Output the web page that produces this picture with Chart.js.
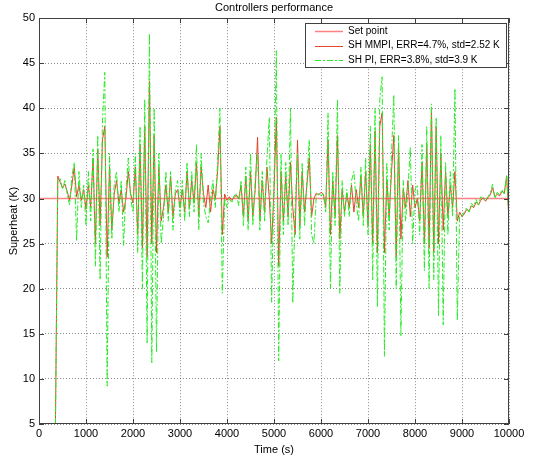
<!DOCTYPE html>
<html>
<head>
<meta charset="utf-8">
<title>Controllers performance</title>
<script src="https://cdn.jsdelivr.net/npm/chart.js@4.4.0/dist/chart.umd.min.js"></script>
<style>
body { margin: 0; background: #fff; }
canvas { display: block; }
</style>
</head>
<body>
<canvas id="myChart" width="534" height="457"></canvas>
<script>
// time axis (s), one sample every 50 s
const time = [
  350, 400, 450, 500, 550, 600, 650, 700, 750, 800, 850, 900, 950, 1000,
  1050, 1100, 1150, 1200, 1250, 1300, 1350, 1400, 1450, 1500, 1550, 1600,
  1650, 1700, 1750, 1800, 1850, 1900, 1950, 2000,
  2050, 2100, 2150, 2200, 2250, 2300, 2350, 2400, 2450, 2500, 2550, 2600,
  2650, 2700, 2750, 2800, 2850, 2900, 2950, 3000,
  3050, 3100, 3150, 3200, 3250, 3300, 3350, 3400, 3450, 3500,
  3550, 3600, 3650, 3700, 3750, 3800, 3850, 3900, 3950, 4000,
  4050, 4100, 4150, 4200, 4250, 4300, 4350, 4400, 4450, 4500,
  4550, 4600, 4650, 4700, 4750, 4800, 4850, 4900, 4950, 5000,
  5050, 5100, 5150, 5200, 5250, 5300, 5350, 5400, 5450, 5500,
  5550, 5600, 5650, 5700, 5750, 5800, 5850, 5900, 5950, 6000,
  6050, 6100, 6150, 6200, 6250, 6300, 6350, 6400, 6450, 6500,
  6550, 6600, 6650, 6700, 6750, 6800, 6850, 6900, 6950, 7000,
  7050, 7100, 7150, 7200, 7250, 7300, 7350, 7400, 7450, 7500,
  7550, 7600, 7650, 7700, 7750, 7800, 7850, 7900, 7950, 8000,
  8050, 8100, 8150, 8200, 8250, 8300, 8350, 8400, 8450, 8500,
  8550, 8600, 8650, 8700, 8750, 8800, 8850, 8900, 8950, 9000,
  9050, 9100, 9150, 9200, 9250, 9300, 9350, 9400, 9450, 9500,
  9550, 9600, 9650, 9700, 9750, 9800, 9850, 9900, 9950, 10000
];

// superheat with the MMPI controller (K)
const shMMPI = [
  5, 32.5, 31.8, 31.2, 31.6, 30.8, 29.8, 31.5, 33.5, 30.2, 31.5, 29.8, 31, 28.8,
  31.5, 29, 34.5, 25, 35.5, 27, 36.5, 38, 23.5, 33.5, 26.5, 30.5,
  32, 29.5, 31, 28.5, 30, 33, 30.5, 29.5,
  33.5, 26, 36, 24.5, 38, 23.5, 43, 25, 37, 24, 33.5, 27.5,
  29, 31.5, 28.5, 32.5, 28, 30.5, 31, 29,
  31, 28.5, 33, 29, 32, 29.5, 34, 28, 33.5, 30.5,
  29, 31.5, 28.5, 31, 30, 33, 38, 26, 30.5, 29.8,
  30.2, 29.8, 30.1, 30.4, 30, 31.5, 28, 32.5, 27.5, 33,
  28, 31, 36.8, 27.5, 32, 28.5, 33.5, 30, 25, 31,
  39, 22.5, 33, 27.5, 32.5, 28, 34, 29, 26, 36.5,
  27, 33, 28.5, 31.5, 34.5, 28, 30, 30.6, 30.4, 30.7,
  30.5, 29, 36.5, 26, 32, 28, 37, 25.5, 31, 28.5,
  30.5, 29, 31.5, 28.5, 31, 29, 32.5, 28, 33, 27,
  36, 25, 37.5, 24, 38, 39.5, 24, 32, 28, 33,
  37, 23.5, 36, 25.5, 31, 29, 32, 28, 31.5, 29,
  30, 27.5, 34, 25, 36, 24.5, 40, 24, 38, 25,
  35, 26.5, 33, 28, 31.5, 29, 33, 27.5, 28.5, 28,
  28.3, 28.8, 28.6, 29.2, 29, 29.6, 29.3, 29.8, 30.1, 29.7,
  30.1, 30.4, 31.2, 30.2, 30.5, 30.3, 30.8, 30.6, 32.5, 27.5
];

// superheat with the PI controller (K)
const shPI = [
  5, 32, 32.3, 31, 32, 30.5, 29.3, 32.5, 34, 25.3, 33, 29, 31.5, 27,
  33, 27.5, 35.5, 22.5, 37, 21, 38.5, 44, 9.2, 35, 25.5, 31.5,
  33, 28.5, 32, 24.8, 31, 34.5, 30, 28.5,
  35, 24, 38, 20, 41, 14, 48.3, 11.8, 40, 13, 35, 25,
  28, 33, 27.5, 33, 26.5, 31, 32, 28,
  32, 27.5, 34, 28, 33, 28.5, 36, 26.5, 35, 29.5,
  28, 27.3, 30, 32, 29, 34, 40, 19.5, 30, 29,
  30, 29.5, 30.3, 30.5, 29.2, 32, 27, 33.5, 26.5, 35,
  27, 32, 35, 26.5, 33, 27.5, 34.5, 39, 18.5, 32,
  46.4, 12, 35, 26, 34, 27, 40, 18.4, 29, 35,
  25.5, 34, 27, 32, 36.5, 26, 25, 30.5, 30.6, 30.3,
  30.6, 28.5, 39.5, 20, 33, 27, 41, 19.5, 32, 28,
  31, 28, 32, 33, 29.5, 27.5, 33.5, 27, 34.5, 26,
  38, 21, 40, 18, 41, 43.5, 12.5, 34, 26.5, 35,
  41.5, 20, 37, 14.8, 32, 27.5, 31, 35.7, 25, 31,
  31.5, 26, 36, 22, 38, 20, 40.5, 21, 39, 17,
  37, 16, 34, 26, 33, 28, 42.2, 16.5, 28.3, 28,
  28.5, 29, 28.5, 29.5, 29.1, 29.9, 29.2, 30.2, 30, 29.8,
  30.2, 30.6, 31.6, 30, 30.7, 30.4, 31, 30.5, 32.6, 27.6
];

// set point (K)
const setTime = [0, 10000];
const setPoint = [30, 30];

const xTicks = [0, 1000, 2000, 3000, 4000, 5000, 6000, 7000, 8000, 9000, 10000];
const yTicks = [5, 10, 15, 20, 25, 30, 35, 40, 45, 50];

const FONT = 'Liberation Sans, Arial, Helvetica, sans-serif';

function pts(xs, ys) {
  return xs.map((x, i) => ({ x: x, y: ys[i] }));
}

// axes box, inward ticks and the legend box in the upper right corner
const matlabFrame = {
  id: 'matlabFrame',
  afterDraw(chart) {
    const ctx = chart.ctx;
    const a = chart.chartArea;
    const sx = chart.scales.x, sy = chart.scales.y;
    ctx.save();
    ctx.strokeStyle = '#404040';
    ctx.lineWidth = 1;
    ctx.strokeRect(Math.round(a.left) + 0.5, Math.round(a.top) + 0.5,
      Math.round(a.right - a.left) - 1, Math.round(a.bottom - a.top) - 1);
    ctx.beginPath();
    xTicks.forEach(v => {
      const px = Math.round(sx.getPixelForValue(v)) + 0.5;
      ctx.moveTo(px, a.bottom); ctx.lineTo(px, a.bottom - 5);
      ctx.moveTo(px, a.top); ctx.lineTo(px, a.top + 5);
    });
    yTicks.forEach(v => {
      const py = Math.round(sy.getPixelForValue(v)) + 0.5;
      ctx.moveTo(a.left, py); ctx.lineTo(a.left + 5, py);
      ctx.moveTo(a.right, py); ctx.lineTo(a.right - 5, py);
    });
    ctx.stroke();

    // legend: set point, MMPI, PI
    const lx = 305, ly = 23, lw = 201, lh = 44;
    ctx.fillStyle = '#fff';
    ctx.fillRect(lx, ly, lw, lh);
    ctx.strokeStyle = '#404040';
    ctx.strokeRect(lx + 0.5, ly + 0.5, lw, lh);
    ctx.font = '10px ' + FONT;
    ctx.textBaseline = 'middle';
    ctx.textAlign = 'left';
    const rows = [2, 1, 0];
    rows.forEach((di, r) => {
      const ds = chart.data.datasets[di];
      const y = ly + 8 + r * 14.5;
      ctx.strokeStyle = ds.borderColor;
      ctx.lineWidth = ds.borderWidth;
      ctx.setLineDash(ds.borderDash || []);
      ctx.beginPath();
      ctx.moveTo(lx + 10, Math.round(y) + 0.5);
      ctx.lineTo(lx + 38, Math.round(y) + 0.5);
      ctx.stroke();
      ctx.setLineDash([]);
      ctx.fillStyle = '#000';
      ctx.fillText(ds.label, lx + 43, y);
    });
    ctx.restore();
  }
};

const ctx = document.getElementById('myChart').getContext('2d');
const myChart = new Chart(ctx, {
  type: 'line',
  data: {
    datasets: [
      {
        label: 'SH PI, ERR=3.8%, std=3.9 K',
        data: pts(time, shPI),
        borderColor: 'rgb(40,235,40)',
        borderWidth: 1,
        borderDash: [6, 2, 2, 2],
        order: 1
      },
      {
        label: 'SH MMPI, ERR=4.7%, std=2.52 K',
        data: pts(time, shMMPI),
        borderColor: 'rgb(225,70,45)',
        borderWidth: 1,
        order: 2
      },
      {
        label: 'Set point',
        data: pts(setTime, setPoint),
        borderColor: 'rgb(255,130,130)',
        borderWidth: 1.5,
        order: 3
      }
    ]
  },
  options: {
    responsive: false,
    devicePixelRatio: 1,
    animation: false,
    events: [],
    elements: {
      point: { radius: 0 },
      line: { tension: 0, fill: false }
    },
    layout: { padding: { left: 0, right: 25, top: 0, bottom: 0 } },
    plugins: {
      legend: { display: false },
      tooltip: { enabled: false },
      title: {
        display: true,
        text: 'Controllers performance',
        color: '#000',
        fullSize: false,
        font: { family: FONT, size: 11, weight: 'normal' },
        padding: { top: 1, bottom: 4 }
      }
    },
    scales: {
      x: {
        type: 'linear',
        min: 0,
        max: 10000,
        afterFit(scale) { scale.height = 33; },
        afterBuildTicks(scale) { scale.ticks = xTicks.map(v => ({ value: v })); },
        ticks: {
          color: '#000',
          font: { family: FONT, size: 11 },
          padding: 3,
          maxRotation: 0,
          autoSkip: false,
          callback: v => String(v)
        },
        grid: { color: 'rgba(0,0,0,0.45)', drawTicks: false },
        border: { display: false, dash: [1, 2] },
        title: {
          display: true,
          text: 'Time (s)',
          color: '#000',
          font: { family: FONT, size: 11 },
          padding: { top: 1, bottom: 0 }
        }
      },
      y: {
        min: 5,
        max: 50,
        afterFit(scale) { scale.width = 39; },
        afterBuildTicks(scale) { scale.ticks = yTicks.map(v => ({ value: v })); },
        ticks: {
          color: '#000',
          font: { family: FONT, size: 11 },
          padding: 4,
          callback: v => String(v)
        },
        grid: { color: 'rgba(0,0,0,0.45)', drawTicks: false },
        border: { display: false, dash: [1, 2] },
        title: {
          display: true,
          text: 'Superheat (K)',
          color: '#000',
          font: { family: FONT, size: 11 },
          padding: { top: 7, bottom: 2 }
        }
      }
    }
  },
  plugins: [matlabFrame]
});
</script>
</body>
</html>
